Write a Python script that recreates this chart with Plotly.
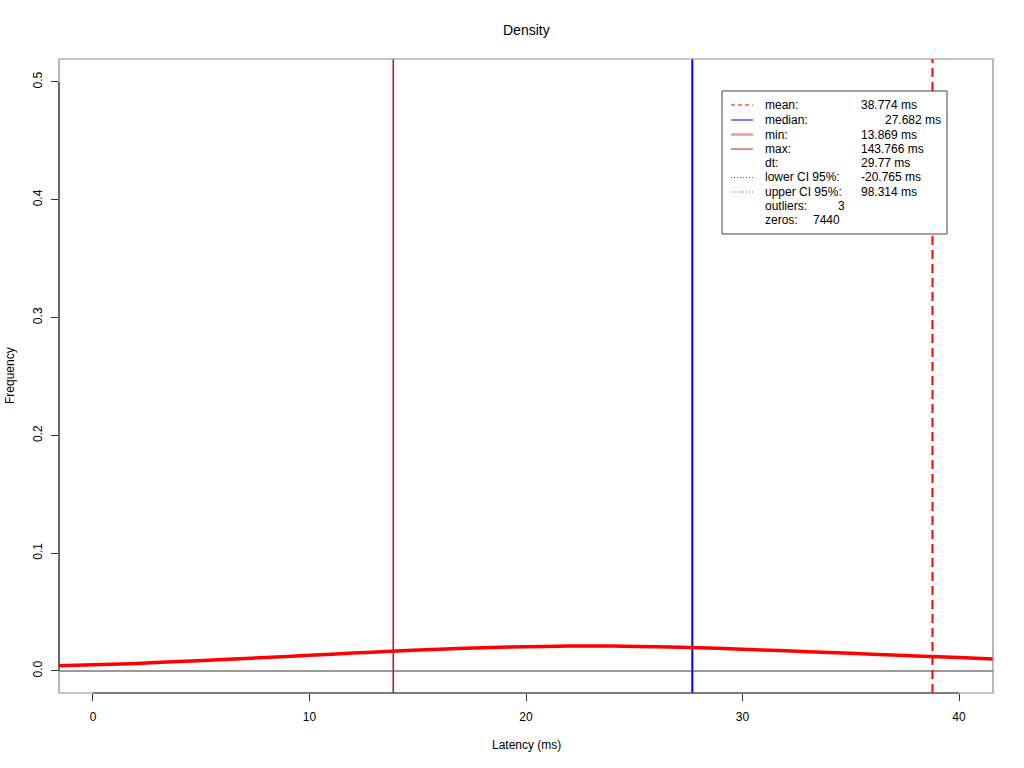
import plotly.graph_objects as go

# ---- data ----
dens_x = [-1.6, 0, 2, 4, 6, 8, 10, 12, 14, 16, 18, 20, 22, 24, 26, 28, 30, 32, 34, 36, 38, 40, 41.6]
dens_y = [0.0045, 0.0052, 0.0064, 0.0080, 0.0097, 0.0115, 0.0133, 0.0152, 0.0170, 0.0185, 0.0197,
          0.0206, 0.0211, 0.0211, 0.0205, 0.0197, 0.0185, 0.0171, 0.0157, 0.0142, 0.0128, 0.0114, 0.0102]

stat_mean = 38.774
stat_median = 27.682
stat_min = 13.869

x_ticks = [0, 10, 20, 30, 40]
y_ticks = [0.0, 0.1, 0.2, 0.3, 0.4, 0.5]
y_tick_text = ["0.0", "0.1", "0.2", "0.3", "0.4", "0.5"]

legend_labels = ["mean:", "median:", "min:", "max:", "dt:", "lower CI 95%:", "upper CI 95%:", "outliers:", "zeros:"]
legend_values = ["38.774 ms", "27.682 ms", "13.869 ms", "143.766 ms", "29.77 ms", "-20.765 ms", "98.314 ms", "3", "7440"]

# ---- layout geometry (pixels) ----
W, H = 1024, 768
L, R, T, B = 59, 993, 59, 693
X_RANGE = [-1.57, 41.57]
Y_RANGE = [-0.0187, 0.5195]

def px_x(p):
    return (p - L) / (R - L)

def px_y(p):
    return (B - p) / (B - T)

FONT = "Liberation Sans, Arial, sans-serif"

fig = go.Figure()

# zero line
fig.add_trace(go.Scatter(x=X_RANGE, y=[0, 0], mode="lines",
                         line=dict(color="#9a9a9a", width=2), hoverinfo="skip", showlegend=False))
# min line
fig.add_trace(go.Scatter(x=[stat_min, stat_min], y=Y_RANGE, mode="lines",
                         line=dict(color="#a52a2a", width=1.6), hoverinfo="skip", showlegend=False))
# median line
fig.add_trace(go.Scatter(x=[stat_median, stat_median], y=Y_RANGE, mode="lines",
                         line=dict(color="#0000ff", width=2), hoverinfo="skip", showlegend=False))
# mean line
fig.add_trace(go.Scatter(x=[stat_mean, stat_mean], y=Y_RANGE, mode="lines",
                         line=dict(color="#ff0000", width=2, dash="9px,5px"), hoverinfo="skip", showlegend=False))
# density curve
fig.add_trace(go.Scatter(x=dens_x, y=dens_y, mode="lines", line=dict(color="#ff0000", width=3.5, shape="spline"),
                         showlegend=False, name="density"))

shapes = []
# box
shapes.append(dict(type="rect", xref="paper", yref="paper", x0=0, x1=1, y0=0, y1=1,
                   line=dict(color="#8c8c8c", width=1.2), layer="above"))
# axis lines
shapes.append(dict(type="line", xref="x", yref="paper", x0=x_ticks[0], x1=x_ticks[-1], y0=0, y1=0,
                   line=dict(color="#333333", width=1.2), layer="above"))
shapes.append(dict(type="line", xref="paper", yref="y", x0=0, x1=0, y0=y_ticks[0], y1=y_ticks[-1],
                   line=dict(color="#333333", width=1.2), layer="above"))

# legend box
shapes.append(dict(type="rect", xref="paper", yref="paper", x0=px_x(722), x1=px_x(947), y0=px_y(234), y1=px_y(91),
                   line=dict(color="#444444", width=1), fillcolor="white", layer="above"))

row_y = [105, 120, 134.5, 149, 163, 177.5, 192, 206, 220.5]
sample_styles = [
    dict(color="#ff0000", width=1, dash="4px,3px"),
    dict(color="#0000ff", width=1),
    dict(color="#e5a0a0", width=2.5),
    dict(color="#b03030", width=1),
    None,
    dict(color="#2e7d32", width=1, dash="1px,2px"),
    dict(color="#2e7d32", width=1, dash="1px,2px"),
    None,
    None,
]
for yy, st in zip(row_y, sample_styles):
    if st is not None:
        shapes.append(dict(type="line", xref="paper", yref="paper", x0=px_x(731), x1=px_x(753),
                           y0=px_y(yy), y1=px_y(yy), line=st, layer="above"))

annotations = []
value_x = [859, 883, 859, 859, 859, 859, 859, 836, 811]
for lab, val, yy, vx in zip(legend_labels, legend_values, row_y, value_x):
    annotations.append(dict(xref="paper", yref="paper", x=px_x(763), y=px_y(yy), text=lab, showarrow=False,
                            xanchor="left", yanchor="middle", font=dict(size=12, color="#000000", family=FONT)))
    annotations.append(dict(xref="paper", yref="paper", x=px_x(vx), y=px_y(yy), text=val, showarrow=False,
                            xanchor="left", yanchor="middle", font=dict(size=12, color="#000000", family=FONT)))

# title and axis titles
annotations.append(dict(xref="paper", yref="paper", x=0.5, y=px_y(30), text="Density", showarrow=False,
                        xanchor="center", yanchor="middle", font=dict(size=14, color="#000000", family=FONT)))
annotations.append(dict(xref="paper", yref="paper", x=0.5, y=px_y(745), text="Latency (ms)", showarrow=False,
                        xanchor="center", yanchor="middle", font=dict(size=12, color="#000000", family=FONT)))
annotations.append(dict(xref="paper", yref="paper", x=px_x(10), y=0.5, text="Frequency", showarrow=False,
                        textangle=-90, xanchor="center", yanchor="middle",
                        font=dict(size=12, color="#000000", family=FONT)))

fig.update_layout(
    width=W, height=H,
    margin=dict(l=L, r=W - R, t=T, b=H - B, pad=0),
    paper_bgcolor="white", plot_bgcolor="white",
    shapes=shapes, annotations=annotations,
    font=dict(family=FONT, size=12, color="#000000"),
    xaxis=dict(range=X_RANGE, tickvals=x_ticks, ticks="outside", ticklen=7, tickcolor="#333333",
               showgrid=False, zeroline=False, showline=False, tickfont=dict(size=12),
               ticklabelstandoff=6),
    yaxis=dict(range=Y_RANGE, tickvals=y_ticks, ticktext=y_tick_text, ticks="outside", ticklen=7,
               tickcolor="#333333", tickangle=-90, showgrid=False, zeroline=False, showline=False,
               tickfont=dict(size=12), ticklabelstandoff=4),
    showlegend=False,
)

fig.write_html("out.html", config={"displayModeBar": False},
               post_script="document.body.style.margin='0';document.body.style.overflow='hidden';")
